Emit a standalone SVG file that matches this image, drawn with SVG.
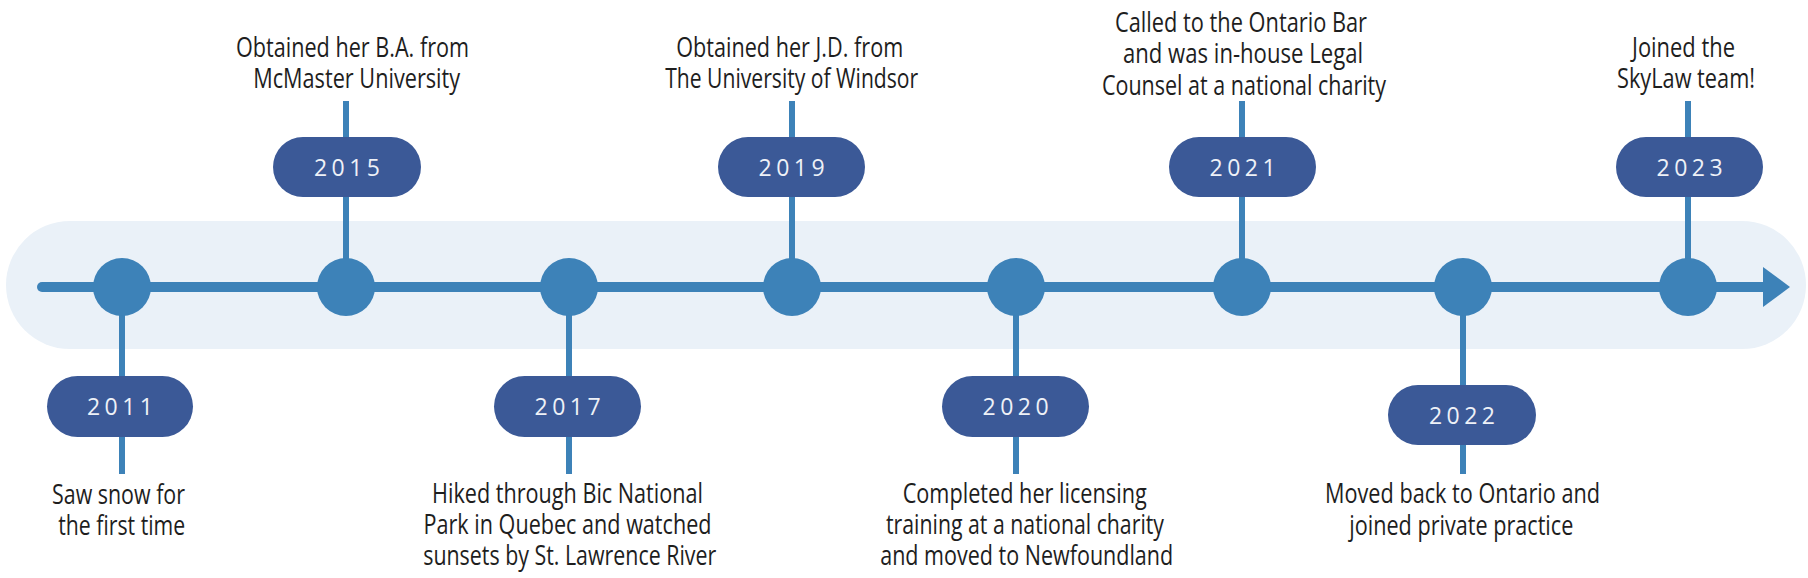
<svg xmlns="http://www.w3.org/2000/svg" width="1808" height="578" viewBox="0 0 1808 578">
<style>
.band{fill:#eaf1f8}
.axis{stroke:#3d82b8;stroke-width:10;stroke-linecap:round;fill:none}
.stem{stroke:#3d82b8;stroke-width:6;fill:none}
.dot{fill:#3d82b8}
.pill{fill:#3b5997}
.year{font-family:"Open Sans","DejaVu Sans",sans-serif;font-size:23px;letter-spacing:4.5px;fill:#eef1f7;text-anchor:middle}
.lbl{font-family:"Liberation Sans Narrow","Open Sans","DejaVu Sans",sans-serif;font-size:27.5px;fill:#1e1e1e;text-anchor:middle}
</style>
<rect class="band" x="6" y="221" width="1800" height="128" rx="64" ry="64"/>
<g id="connectors">
<line class="axis" x1="42" y1="287" x2="1765" y2="287"/>
<polygon class="dot" points="1763,267 1790,287 1763,307"/>
<line class="stem" x1="122" y1="287" x2="122" y2="474"/>
<line class="stem" x1="346" y1="101" x2="346" y2="287"/>
<line class="stem" x1="569" y1="287" x2="569" y2="474"/>
<line class="stem" x1="792" y1="101" x2="792" y2="287"/>
<line class="stem" x1="1016" y1="287" x2="1016" y2="474"/>
<line class="stem" x1="1242" y1="101" x2="1242" y2="287"/>
<line class="stem" x1="1463" y1="287" x2="1463" y2="474"/>
<line class="stem" x1="1688" y1="101" x2="1688" y2="287"/>
</g>
<g id="n2011">
<circle class="dot" cx="122" cy="287" r="29"/>
<rect class="pill" x="47" y="376" width="146" height="61" rx="30.5"/>
<text class="year" x="122.2" y="415">2011</text>
<text class="lbl"><tspan x="118.5" y="504" textLength="133" lengthAdjust="spacingAndGlyphs">Saw snow for</tspan><tspan x="121.7" y="535" textLength="127" lengthAdjust="spacingAndGlyphs">the first time</tspan></text>
</g>
<g id="n2015">
<circle class="dot" cx="346" cy="287" r="29"/>
<rect class="pill" x="273" y="137" width="148" height="60" rx="30"/>
<text class="year" x="349.2" y="175.5">2015</text>
<text class="lbl"><tspan x="352.5" y="57" textLength="233" lengthAdjust="spacingAndGlyphs">Obtained her B.A. from</tspan><tspan x="356.7" y="88" textLength="207" lengthAdjust="spacingAndGlyphs">McMaster University</tspan></text>
</g>
<g id="n2017">
<circle class="dot" cx="569" cy="287" r="29"/>
<rect class="pill" x="494" y="376" width="147" height="61" rx="30.5"/>
<text class="year" x="569.8" y="415">2017</text>
<text class="lbl"><tspan x="567.5" y="503" textLength="271" lengthAdjust="spacingAndGlyphs">Hiked through Bic National</tspan><tspan x="567.5" y="534" textLength="288" lengthAdjust="spacingAndGlyphs">Park in Quebec and watched</tspan><tspan x="569.7" y="565" textLength="293" lengthAdjust="spacingAndGlyphs">sunsets by St. Lawrence River</tspan></text>
</g>
<g id="n2019">
<circle class="dot" cx="792" cy="287" r="29"/>
<rect class="pill" x="718" y="137" width="147" height="60" rx="30"/>
<text class="year" x="793.8" y="175.5">2019</text>
<text class="lbl"><tspan x="789.7" y="57" textLength="227" lengthAdjust="spacingAndGlyphs">Obtained her J.D. from</tspan><tspan x="791.7" y="88" textLength="253" lengthAdjust="spacingAndGlyphs">The University of Windsor</tspan></text>
</g>
<g id="n2020">
<circle class="dot" cx="1016" cy="287" r="29"/>
<rect class="pill" x="942" y="376" width="147" height="61" rx="30.5"/>
<text class="year" x="1017.8" y="415">2020</text>
<text class="lbl"><tspan x="1024.7" y="503" textLength="244" lengthAdjust="spacingAndGlyphs">Completed her licensing</tspan><tspan x="1025" y="534" textLength="278" lengthAdjust="spacingAndGlyphs">training at a national charity</tspan><tspan x="1026.7" y="565" textLength="293" lengthAdjust="spacingAndGlyphs">and moved to Newfoundland</tspan></text>
</g>
<g id="n2021">
<circle class="dot" cx="1242" cy="287" r="29"/>
<rect class="pill" x="1169" y="137" width="147" height="60" rx="30"/>
<text class="year" x="1244.8" y="175.5">2021</text>
<text class="lbl"><tspan x="1241" y="32" textLength="252" lengthAdjust="spacingAndGlyphs">Called to the Ontario Bar</tspan><tspan x="1243" y="63" textLength="240" lengthAdjust="spacingAndGlyphs">and was in-house Legal</tspan><tspan x="1244" y="95" textLength="284" lengthAdjust="spacingAndGlyphs">Counsel at a national charity</tspan></text>
</g>
<g id="n2022">
<circle class="dot" cx="1463" cy="287" r="29"/>
<rect class="pill" x="1388" y="385" width="148" height="60" rx="30"/>
<text class="year" x="1464.2" y="423.5">2022</text>
<text class="lbl"><tspan x="1462.5" y="503" textLength="275" lengthAdjust="spacingAndGlyphs">Moved back to Ontario and</tspan><tspan x="1461.3" y="535" textLength="224" lengthAdjust="spacingAndGlyphs">joined private practice</tspan></text>
</g>
<g id="n2023">
<circle class="dot" cx="1688" cy="287" r="29"/>
<rect class="pill" x="1616" y="137" width="147" height="60" rx="30"/>
<text class="year" x="1691.8" y="175.5">2023</text>
<text class="lbl"><tspan x="1683.5" y="57" textLength="103" lengthAdjust="spacingAndGlyphs">Joined the</tspan><tspan x="1686" y="88" textLength="138" lengthAdjust="spacingAndGlyphs">SkyLaw team!</tspan></text>
</g>
</svg>
